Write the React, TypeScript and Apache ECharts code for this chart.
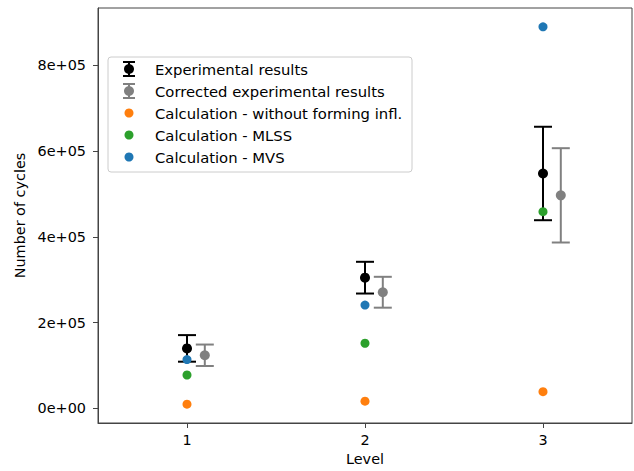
import React, { useEffect, useRef } from "react";
import * as echarts from "echarts";

const levels = [1, 2, 3];
const xTicks = [1, 2, 3];
const yTicks = [0, 200000, 400000, 600000, 800000];

const expValues = [140000, 305000, 548000];
const expErr = [31000, 37000, 109000];
const corrValues = [124000, 271000, 497000];
const corrErr = [25000, 36000, 110000];
const CORR_OFFSET = 0.1;

const calcNoForming = [10000, 17000, 39000];
const calcMLSS = [78000, 152000, 459000];
const calcMVS = [114000, 241000, 890000];

const legendLabels = [
  "Experimental results",
  "Corrected experimental results",
  "Calculation - without forming infl.",
  "Calculation - MLSS",
  "Calculation - MVS",
];

const C_EXP = "#000000";
const C_CORR = "#808080";
const C_ORANGE = "#ff7f0e";
const C_GREEN = "#2ca02c";
const C_BLUE = "#1f77b4";
const FONT = "DejaVu Sans";
const FS = 14.4;
const LEG_FS = 14.8;

function sci(v: number): string {
  const s = v.toExponential(0);
  const [m, e] = s.split("e");
  const sign = e[0];
  const digits = e.slice(1).padStart(2, "0");
  return m + "e" + sign + digits;
}

function errorBarSeries(name: string, color: string, xs: number[], ys: number[], es: number[]) {
  return {
    name,
    type: "custom",
    z: 2,
    data: xs.map((x, i) => [x, ys[i], es[i]]),
    encode: { x: 0, y: 1 },
    renderItem: (params: any, api: any) => {
      const x = api.value(0);
      const y = api.value(1);
      const e = api.value(2);
      const top = api.coord([x, y + e]);
      const bot = api.coord([x, y - e]);
      const cap = 9;
      const style = { stroke: color, lineWidth: 2 };
      return {
        type: "group",
        children: [
          { type: "line", shape: { x1: top[0], y1: top[1], x2: bot[0], y2: bot[1] }, style },
          { type: "line", shape: { x1: top[0] - cap, y1: top[1], x2: top[0] + cap, y2: top[1] }, style },
          { type: "line", shape: { x1: bot[0] - cap, y1: bot[1], x2: bot[0] + cap, y2: bot[1] }, style },
        ],
      };
    },
  };
}

function scatterSeries(name: string, color: string, xs: number[], ys: number[], size: number) {
  return {
    name,
    type: "scatter",
    z: 3,
    symbol: "circle",
    symbolSize: size,
    itemStyle: { color, opacity: 1 },
    data: xs.map((x, i) => [x, ys[i]]),
  };
}

function buildLegend() {
  const x0 = 108;
  const y0 = 57;
  const rowY0 = 69;
  const rowGap = 22;
  const iconX = 129;
  const textX = 155;
  const children: any[] = [
    {
      type: "rect",
      shape: { x: x0, y: y0, width: 304, height: 115, r: 3 },
      style: { fill: "rgba(255,255,255,0.8)", stroke: "#cccccc", lineWidth: 1 },
    },
  ];
  const kinds = [
    { kind: "err", color: C_EXP },
    { kind: "err", color: C_CORR },
    { kind: "dot", color: C_ORANGE },
    { kind: "dot", color: C_GREEN },
    { kind: "dot", color: C_BLUE },
  ];
  legendLabels.forEach((label, i) => {
    const cy = rowY0 + i * rowGap;
    const k = kinds[i];
    if (k.kind === "err") {
      const st = { stroke: k.color, lineWidth: 2 };
      children.push({ type: "line", shape: { x1: iconX, y1: cy - 7, x2: iconX, y2: cy + 7 }, style: st });
      children.push({ type: "line", shape: { x1: iconX - 6, y1: cy - 7, x2: iconX + 6, y2: cy - 7 }, style: st });
      children.push({ type: "line", shape: { x1: iconX - 6, y1: cy + 7, x2: iconX + 6, y2: cy + 7 }, style: st });
      children.push({ type: "circle", shape: { cx: iconX, cy, r: 5 }, style: { fill: k.color } });
    } else {
      children.push({ type: "circle", shape: { cx: iconX, cy, r: 4.5 }, style: { fill: k.color } });
    }
    children.push({
      type: "text",
      x: textX,
      y: cy,
      style: {
        text: label,
        fill: "#000",
        font: `${LEG_FS}px '${FONT}'`,
        verticalAlign: "middle",
        align: "left",
      },
    });
  });
  return [{ type: "group", z: 10, children }];
}

export default function App() {
  const ref = useRef<HTMLDivElement>(null);
  useEffect(() => {
    if (!ref.current) return;
    const chart = echarts.init(ref.current, undefined, { renderer: "svg" });
    const axisText = { color: "#000", fontFamily: FONT, fontSize: FS };
    const corrX = levels.map((l) => l + CORR_OFFSET);
    chart.setOption({
      animation: false,
      backgroundColor: "#fff",
      grid: {
        left: 98,
        right: 2,
        top: 8,
        bottom: 48,
        show: true,
        borderColor: "#444",
        borderWidth: 1,
        backgroundColor: "transparent",
      },
      xAxis: {
        type: "value",
        min: 0.5,
        max: 3.5,
        name: "Level",
        nameLocation: "middle",
        nameGap: 29,
        nameTextStyle: axisText,
        axisLine: { show: true, onZero: false, lineStyle: { color: "#444", width: 1 } },
        axisTick: { show: true, length: 5, customValues: xTicks, lineStyle: { color: "#444" } },
        axisLabel: { ...axisText, margin: 10, customValues: xTicks, formatter: (v: number) => String(v) },
        splitLine: { show: false },
      },
      yAxis: {
        type: "value",
        min: -34000,
        max: 934000,
        name: "Number of cycles",
        nameLocation: "middle",
        nameGap: 66,
        nameTextStyle: axisText,
        axisLine: { show: true, onZero: false, lineStyle: { color: "#444", width: 1 } },
        axisTick: { show: true, length: 5, customValues: yTicks, lineStyle: { color: "#444" } },
        axisLabel: { ...axisText, margin: 12, customValues: yTicks, formatter: (v: number) => sci(v) },
        splitLine: { show: false },
      },
      series: [
        errorBarSeries(legendLabels[0], C_EXP, levels, expValues, expErr),
        scatterSeries(legendLabels[0] + " marker", C_EXP, levels, expValues, 10),
        errorBarSeries(legendLabels[1], C_CORR, corrX, corrValues, corrErr),
        scatterSeries(legendLabels[1] + " marker", C_CORR, corrX, corrValues, 10),
        scatterSeries(legendLabels[2], C_ORANGE, levels, calcNoForming, 9),
        scatterSeries(legendLabels[3], C_GREEN, levels, calcMLSS, 9),
        scatterSeries(legendLabels[4], C_BLUE, levels, calcMVS, 9),
      ],
      graphic: buildLegend(),
    });
    return () => chart.dispose();
  }, []);
  return (
    <div
      ref={ref}
      style={{ position: "fixed", left: 0, top: 0, width: 634, height: 471, background: "#fff" }}
    />
  );
}
